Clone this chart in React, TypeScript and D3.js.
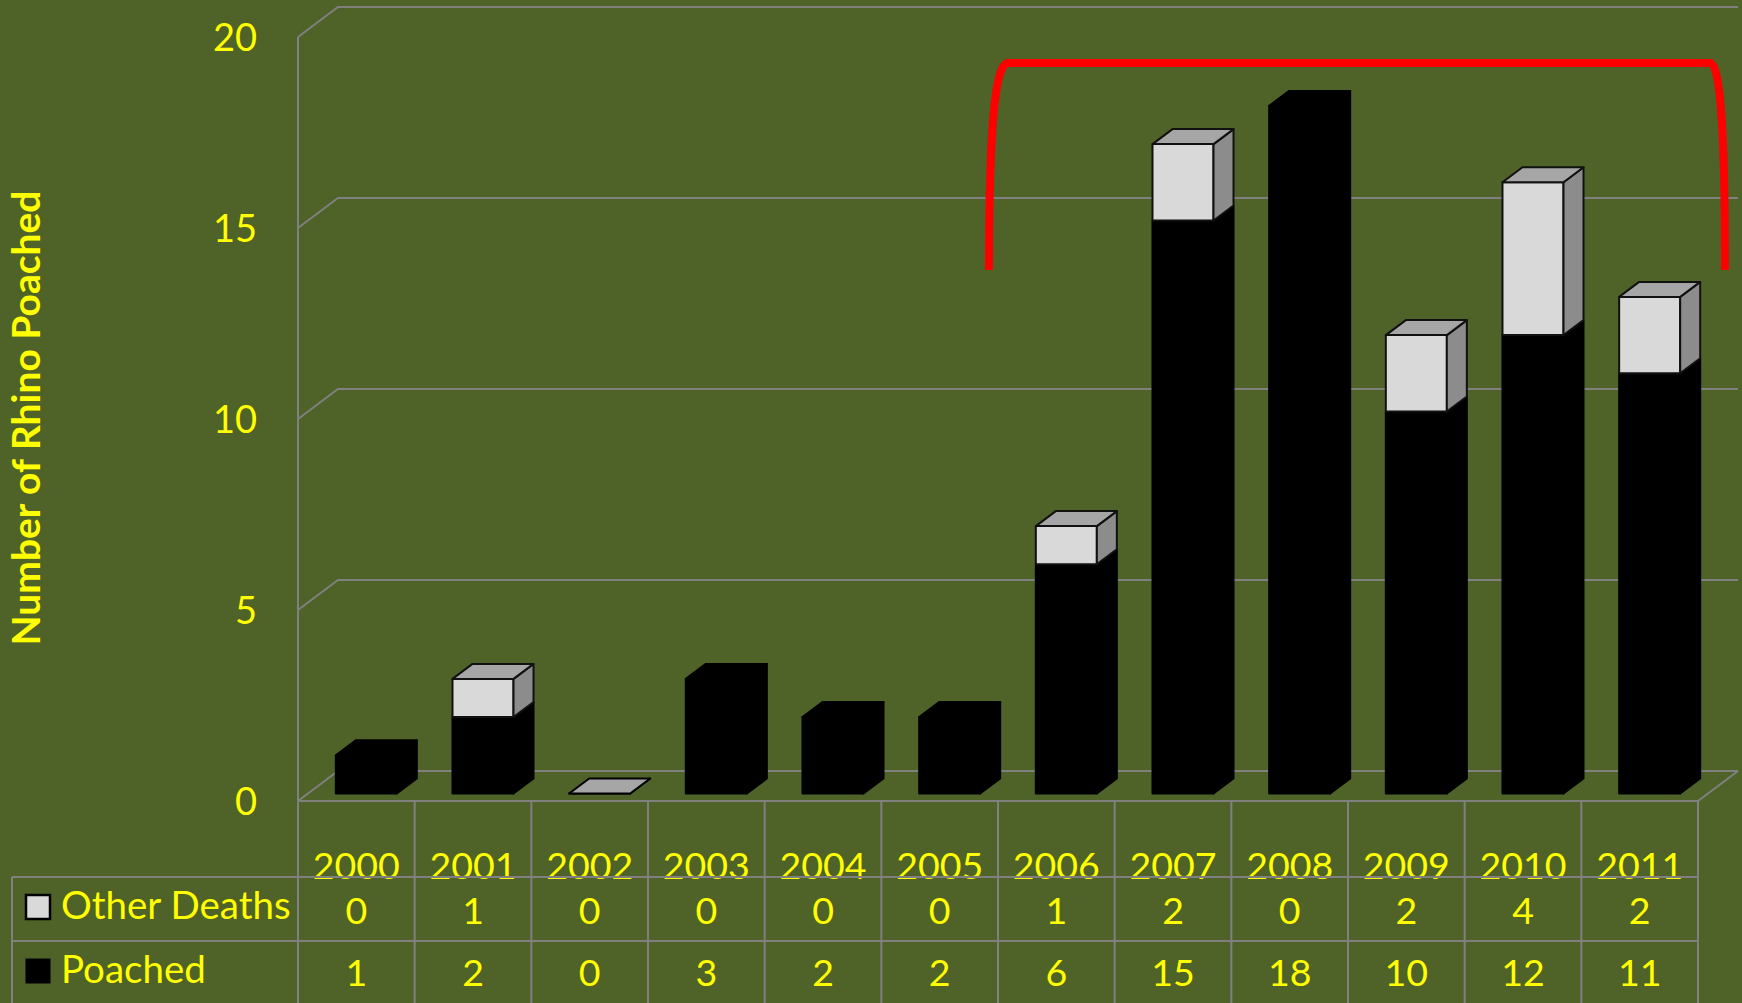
import React from "react";
import * as d3 from "d3";

const years = ["2000", "2001", "2002", "2003", "2004", "2005", "2006", "2007", "2008", "2009", "2010", "2011"];
const otherDeaths = [0, 1, 0, 0, 0, 0, 1, 2, 0, 2, 4, 2];
const poached = [1, 2, 0, 3, 2, 2, 6, 15, 18, 10, 12, 11];
const yTicks = [0, 5, 10, 15, 20];
const seriesNames = ["Other Deaths", "Poached"];
const bracketYears = ["2006", "2011"];
const axisTitle = "Number of Rhino Poached";

const W = 1742;
const H = 1003;
const BG = "#4F6228";
const YELLOW = "#FFFF00";
const GRID = "#808080";
const FONT = "Lato, 'Open Sans', sans-serif";

export default function App() {
  const x = d3.scaleBand<string>().domain(years).range([298, 1698]).padding(0);
  const y = d3.scaleLinear().domain([0, 20]).range([801, 37]);
  const DX = 40;
  const DY = -30;
  const bw = x.bandwidth() * 0.523;
  const offX = DX * 0.25;
  const offY = DY * 0.25;
  const bdx = DX * 0.5;
  const bdy = DY * 0.5;

  const box = (cx: number, v0: number, v1: number, front: string, side: string, top: string, stroke: string, key: string, drawTop = true) => {
    const x0 = cx - bw / 2 + offX;
    const x1 = x0 + bw;
    const yb = y(v0) + offY;
    const yt = y(v1) + offY;
    const frontP = `M${x0},${yb}L${x1},${yb}L${x1},${yt}L${x0},${yt}Z`;
    const sideP = `M${x1},${yb}L${x1 + bdx},${yb + bdy}L${x1 + bdx},${yt + bdy}L${x1},${yt}Z`;
    const topP = `M${x0},${yt}L${x1},${yt}L${x1 + bdx},${yt + bdy}L${x0 + bdx},${yt + bdy}Z`;
    return (
      <g key={key}>
        <path d={frontP} fill={front} stroke={stroke} strokeWidth={2} strokeLinejoin="round" />
        <path d={sideP} fill={side} stroke={stroke} strokeWidth={2} strokeLinejoin="round" />
        {drawTop && <path d={topP} fill={top} stroke={stroke} strokeWidth={2} strokeLinejoin="round" />}
      </g>
    );
  };

  const bars = years.map((yr, i) => {
    const cx = (x(yr) as number) + x.bandwidth() / 2;
    const p = poached[i];
    const o = otherDeaths[i];
    const parts: any[] = [];
    if (p === 0 && o === 0) {
      parts.push(box(cx, 0, 0, "#A6A6A6", "#8C8C8C", "#A6A6A6", "#000", `z${yr}`));
    } else {
      if (p > 0) parts.push(box(cx, 0, p, "#000", "#000", "#000", "#000", `p${yr}`, o === 0));
      if (o > 0) parts.push(box(cx, p, p + o, "#D9D9D9", "#8C8C8C", "#A6A6A6", "#111", `o${yr}`));
    }
    return <g key={yr}>{parts}</g>;
  });

  const xL = x.range()[0];
  const xR = x.range()[1];

  const bl = (x(bracketYears[0]) as number) - 9;
  const br = (x(bracketYears[1]) as number) + x.bandwidth() + 27;
  const bTop = 63;
  const bBot = 270;
  const bracket = `M${bl},${bBot}C${bl},140 ${bl + 5},${bTop} ${bl + 19},${bTop}L${br - 15},${bTop}C${br - 4},${bTop} ${br},140 ${br},${bBot}`;

  const rowOther = 877;
  const rowPoached = 941;

  return (
    <svg width={W} height={H} style={{ display: "block", position: "absolute", left: 0, top: 0 }}>
      <rect x={0} y={0} width={W} height={H} fill={BG} />
      {yTicks.map((t) => (
        <path key={`g${t}`} d={`M${xL},${y(t)}L${xL + DX},${y(t) + DY}L${xR + DX},${y(t) + DY}`} fill="none" stroke={GRID} strokeWidth={2} />
      ))}
      <line x1={xL} y1={y(20)} x2={xL} y2={H} stroke={GRID} strokeWidth={2} />
      <line x1={xR} y1={y(0)} x2={xR + DX} y2={y(0) + DY} stroke={GRID} strokeWidth={2} />
      <line x1={xL} y1={y(0)} x2={xR} y2={y(0)} stroke={GRID} strokeWidth={2} />
      {years.map((yr) => (
        <line key={`c${yr}`} x1={(x(yr) as number) + x.bandwidth()} y1={y(0)} x2={(x(yr) as number) + x.bandwidth()} y2={H} stroke={GRID} strokeWidth={2} />
      ))}
      {yTicks.map((t) => (
        <text key={`t${t}`} x={257} y={y(t)} dy="0.36em" textAnchor="end" fill={YELLOW} fontFamily={FONT} fontSize={38}>
          {t}
        </text>
      ))}
      <text transform={`translate(40,418) rotate(-90)`} textAnchor="middle" fill={YELLOW} fontFamily={FONT} fontWeight="bold" fontSize={39}>
        {axisTitle}
      </text>
      {bars}
      {years.map((yr) => (
        <text key={`y${yr}`} x={(x(yr) as number) + x.bandwidth() / 2} y={879} textAnchor="middle" fill={YELLOW} fontFamily={FONT} fontSize={37.5}>
          {yr}
        </text>
      ))}
      <line x1={12} y1={rowOther} x2={xR} y2={rowOther} stroke={GRID} strokeWidth={2} />
      <line x1={12} y1={rowPoached} x2={xR} y2={rowPoached} stroke={GRID} strokeWidth={2} />
      <line x1={12} y1={rowOther} x2={12} y2={H} stroke={GRID} strokeWidth={2} />
      {otherDeaths.map((v, i) => (
        <text key={`ov${i}`} x={(x(years[i]) as number) + x.bandwidth() / 2} y={924} textAnchor="middle" fill={YELLOW} fontFamily={FONT} fontSize={37.5}>
          {v}
        </text>
      ))}
      {poached.map((v, i) => (
        <text key={`pv${i}`} x={(x(years[i]) as number) + x.bandwidth() / 2} y={986} textAnchor="middle" fill={YELLOW} fontFamily={FONT} fontSize={37.5}>
          {v}
        </text>
      ))}
      <rect x={26} y={895} width={24} height={24} fill="#D9D9D9" stroke="#000" strokeWidth={2.5} />
      <rect x={26} y={959} width={24} height={24} fill="#000" stroke="#000" strokeWidth={1} />
      <text x={61} y={919} fill={YELLOW} fontFamily={FONT} fontSize={38.5}>{seriesNames[0]}</text>
      <text x={61} y={983} fill={YELLOW} fontFamily={FONT} fontSize={38.5}>{seriesNames[1]}</text>
      <path d={bracket} fill="none" stroke="#FF0000" strokeWidth={8} strokeLinejoin="round" />
    </svg>
  );
}
